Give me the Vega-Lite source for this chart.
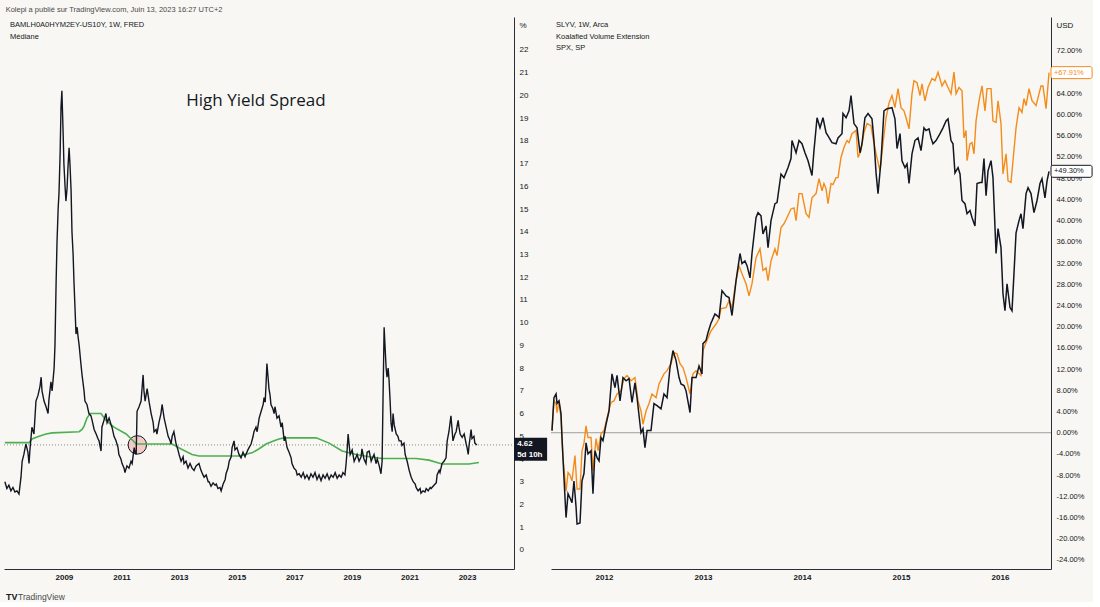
{
  "$schema": "https://vega.github.io/schema/vega-lite/v6.json",
  "background": "#f8f7f3",
  "padding": {"left": 1, "top": 5, "right": 0, "bottom": 0},
  "title": {
    "text": "Kolepi a publié sur TradingView.com, Juin 13, 2023 16:27 UTC+2",
    "anchor": "start",
    "fontSize": 7.5,
    "fontWeight": "normal",
    "color": "#4a4a4a",
    "font": "Liberation Sans",
    "offset": 4,
    "dx": 4
  },
  "config": {
    "view": {"stroke": null},
    "font": "Liberation Sans",
    "text": {"font": "Liberation Sans"}
  },
  "bounds": "flush",
  "spacing": 37,
  "datasets": {
    "spread": [
      {"t":2006.95,"v":3.0},{"t":2007.02,"v":2.7},{"t":2007.09,"v":2.85},{"t":2007.16,"v":2.6},{"t":2007.23,"v":2.75},{"t":2007.30,"v":2.55},{"t":2007.37,"v":2.6},{"t":2007.44,"v":2.46},{"t":2007.51,"v":3.2},{"t":2007.55,"v":3.9},{"t":2007.61,"v":4.2},{"t":2007.68,"v":4.66},{"t":2007.75,"v":4.3},{"t":2007.79,"v":3.8},{"t":2007.82,"v":4.4},{"t":2007.89,"v":5.4},{"t":2007.96,"v":5.1},{"t":2008.03,"v":6.55},{"t":2008.10,"v":6.8},{"t":2008.17,"v":7.2},{"t":2008.21,"v":7.6},{"t":2008.24,"v":7.0},{"t":2008.31,"v":6.55},{"t":2008.38,"v":6.3},{"t":2008.45,"v":6.0},{"t":2008.48,"v":6.6},{"t":2008.55,"v":7.4},{"t":2008.59,"v":7.0},{"t":2008.66,"v":8.0},{"t":2008.69,"v":9.0},{"t":2008.73,"v":11.8},{"t":2008.76,"v":13.5},{"t":2008.80,"v":15.0},{"t":2008.83,"v":15.7},{"t":2008.87,"v":17.5},{"t":2008.90,"v":19.5},{"t":2008.93,"v":20.2},{"t":2008.97,"v":18.5},{"t":2009.00,"v":17.0},{"t":2009.04,"v":16.0},{"t":2009.07,"v":15.35},{"t":2009.11,"v":15.9},{"t":2009.14,"v":16.8},{"t":2009.18,"v":17.7},{"t":2009.21,"v":17.0},{"t":2009.25,"v":15.8},{"t":2009.28,"v":14.0},{"t":2009.32,"v":13.0},{"t":2009.35,"v":11.8},{"t":2009.39,"v":10.5},{"t":2009.42,"v":9.5},{"t":2009.46,"v":9.8},{"t":2009.49,"v":9.4},{"t":2009.53,"v":9.0},{"t":2009.56,"v":8.6},{"t":2009.59,"v":8.2},{"t":2009.63,"v":7.7},{"t":2009.66,"v":7.4},{"t":2009.70,"v":7.0},{"t":2009.73,"v":6.55},{"t":2009.80,"v":6.4},{"t":2009.87,"v":6.0},{"t":2009.94,"v":5.9},{"t":2009.98,"v":5.7},{"t":2010.05,"v":5.3},{"t":2010.12,"v":5.1},{"t":2010.18,"v":4.9},{"t":2010.22,"v":4.8},{"t":2010.29,"v":4.35},{"t":2010.32,"v":5.4},{"t":2010.39,"v":5.7},{"t":2010.46,"v":6.0},{"t":2010.50,"v":5.6},{"t":2010.57,"v":5.8},{"t":2010.64,"v":5.5},{"t":2010.67,"v":5.4},{"t":2010.74,"v":5.0},{"t":2010.81,"v":4.8},{"t":2010.88,"v":4.5},{"t":2010.91,"v":4.2},{"t":2010.98,"v":4.0},{"t":2011.02,"v":3.8},{"t":2011.09,"v":3.6},{"t":2011.12,"v":3.4},{"t":2011.19,"v":3.7},{"t":2011.26,"v":3.6},{"t":2011.33,"v":3.9},{"t":2011.37,"v":3.8},{"t":2011.44,"v":4.5},{"t":2011.47,"v":4.3},{"t":2011.51,"v":4.2},{"t":2011.54,"v":6.1},{"t":2011.61,"v":6.3},{"t":2011.68,"v":6.55},{"t":2011.75,"v":7.7},{"t":2011.78,"v":7.0},{"t":2011.82,"v":6.55},{"t":2011.89,"v":7.1},{"t":2011.96,"v":6.5},{"t":2012.03,"v":6.0},{"t":2012.10,"v":5.6},{"t":2012.13,"v":5.2},{"t":2012.20,"v":5.3},{"t":2012.23,"v":5.1},{"t":2012.30,"v":5.6},{"t":2012.37,"v":6.0},{"t":2012.41,"v":6.4},{"t":2012.48,"v":5.8},{"t":2012.55,"v":5.4},{"t":2012.62,"v":5.0},{"t":2012.69,"v":4.8},{"t":2012.72,"v":4.66},{"t":2012.76,"v":5.0},{"t":2012.82,"v":5.2},{"t":2012.89,"v":4.7},{"t":2012.96,"v":4.4},{"t":2013.00,"v":4.2},{"t":2013.07,"v":3.9},{"t":2013.14,"v":4.1},{"t":2013.17,"v":3.8},{"t":2013.24,"v":3.9},{"t":2013.31,"v":3.6},{"t":2013.38,"v":3.8},{"t":2013.45,"v":3.6},{"t":2013.52,"v":3.5},{"t":2013.59,"v":3.7},{"t":2013.69,"v":3.8},{"t":2013.76,"v":3.5},{"t":2013.83,"v":3.3},{"t":2013.87,"v":3.2},{"t":2013.94,"v":3.3},{"t":2014.01,"v":3.0},{"t":2014.04,"v":3.0},{"t":2014.11,"v":2.8},{"t":2014.18,"v":2.95},{"t":2014.25,"v":2.85},{"t":2014.29,"v":2.9},{"t":2014.35,"v":2.7},{"t":2014.42,"v":2.75},{"t":2014.46,"v":2.6},{"t":2014.53,"v":2.9},{"t":2014.60,"v":3.1},{"t":2014.63,"v":3.35},{"t":2014.70,"v":3.6},{"t":2014.74,"v":3.9},{"t":2014.81,"v":4.1},{"t":2014.84,"v":4.5},{"t":2014.91,"v":4.8},{"t":2014.94,"v":4.4},{"t":2015.01,"v":4.5},{"t":2015.08,"v":4.2},{"t":2015.15,"v":4.05},{"t":2015.22,"v":4.3},{"t":2015.29,"v":4.1},{"t":2015.32,"v":4.2},{"t":2015.39,"v":4.4},{"t":2015.43,"v":4.5},{"t":2015.50,"v":4.66},{"t":2015.57,"v":5.0},{"t":2015.60,"v":5.2},{"t":2015.67,"v":5.4},{"t":2015.71,"v":5.2},{"t":2015.78,"v":5.8},{"t":2015.85,"v":6.1},{"t":2015.92,"v":6.4},{"t":2015.95,"v":6.7},{"t":2015.99,"v":6.5},{"t":2016.02,"v":7.3},{"t":2016.05,"v":8.2},{"t":2016.09,"v":7.6},{"t":2016.12,"v":7.1},{"t":2016.16,"v":6.8},{"t":2016.19,"v":6.4},{"t":2016.26,"v":6.2},{"t":2016.30,"v":6.0},{"t":2016.33,"v":6.3},{"t":2016.40,"v":5.8},{"t":2016.47,"v":5.9},{"t":2016.54,"v":5.4},{"t":2016.58,"v":5.6},{"t":2016.65,"v":4.8},{"t":2016.68,"v":5.0},{"t":2016.75,"v":4.5},{"t":2016.82,"v":4.3},{"t":2016.89,"v":4.05},{"t":2016.92,"v":3.8},{"t":2016.99,"v":3.6},{"t":2017.06,"v":3.5},{"t":2017.10,"v":3.3},{"t":2017.17,"v":3.35},{"t":2017.24,"v":3.2},{"t":2017.31,"v":3.4},{"t":2017.37,"v":3.15},{"t":2017.44,"v":3.3},{"t":2017.51,"v":3.1},{"t":2017.58,"v":3.35},{"t":2017.65,"v":3.2},{"t":2017.72,"v":3.4},{"t":2017.79,"v":3.1},{"t":2017.86,"v":3.3},{"t":2017.93,"v":3.05},{"t":2018.00,"v":3.3},{"t":2018.07,"v":3.15},{"t":2018.14,"v":3.35},{"t":2018.21,"v":3.1},{"t":2018.28,"v":3.3},{"t":2018.35,"v":3.2},{"t":2018.42,"v":3.4},{"t":2018.49,"v":3.15},{"t":2018.56,"v":3.3},{"t":2018.63,"v":3.2},{"t":2018.69,"v":3.4},{"t":2018.76,"v":3.3},{"t":2018.80,"v":3.8},{"t":2018.83,"v":4.3},{"t":2018.87,"v":5.1},{"t":2018.90,"v":4.7},{"t":2018.94,"v":4.2},{"t":2019.01,"v":4.4},{"t":2019.08,"v":3.9},{"t":2019.15,"v":4.1},{"t":2019.18,"v":4.2},{"t":2019.25,"v":3.9},{"t":2019.32,"v":4.1},{"t":2019.35,"v":4.45},{"t":2019.42,"v":4.0},{"t":2019.49,"v":3.8},{"t":2019.53,"v":4.3},{"t":2019.60,"v":4.35},{"t":2019.67,"v":3.9},{"t":2019.70,"v":4.0},{"t":2019.77,"v":4.2},{"t":2019.84,"v":3.8},{"t":2019.88,"v":4.0},{"t":2019.95,"v":3.7},{"t":2020.01,"v":3.35},{"t":2020.05,"v":3.9},{"t":2020.08,"v":6.5},{"t":2020.12,"v":9.8},{"t":2020.15,"v":9.0},{"t":2020.19,"v":8.0},{"t":2020.22,"v":7.6},{"t":2020.26,"v":8.0},{"t":2020.29,"v":7.5},{"t":2020.33,"v":6.5},{"t":2020.36,"v":5.6},{"t":2020.40,"v":5.2},{"t":2020.43,"v":6.0},{"t":2020.47,"v":5.5},{"t":2020.54,"v":5.1},{"t":2020.60,"v":5.0},{"t":2020.64,"v":4.8},{"t":2020.71,"v":4.8},{"t":2020.74,"v":4.6},{"t":2020.81,"v":4.7},{"t":2020.85,"v":4.2},{"t":2020.92,"v":3.9},{"t":2020.99,"v":3.5},{"t":2021.06,"v":3.2},{"t":2021.13,"v":3.0},{"t":2021.20,"v":2.9},{"t":2021.23,"v":2.75},{"t":2021.30,"v":2.6},{"t":2021.37,"v":2.7},{"t":2021.40,"v":2.5},{"t":2021.47,"v":2.6},{"t":2021.54,"v":2.55},{"t":2021.58,"v":2.7},{"t":2021.65,"v":2.6},{"t":2021.72,"v":2.75},{"t":2021.75,"v":2.7},{"t":2021.82,"v":2.8},{"t":2021.89,"v":2.9},{"t":2021.93,"v":2.95},{"t":2021.96,"v":3.3},{"t":2022.03,"v":3.5},{"t":2022.06,"v":3.4},{"t":2022.13,"v":3.8},{"t":2022.20,"v":3.9},{"t":2022.27,"v":4.05},{"t":2022.31,"v":4.8},{"t":2022.37,"v":5.2},{"t":2022.44,"v":5.9},{"t":2022.48,"v":5.3},{"t":2022.51,"v":4.8},{"t":2022.58,"v":5.1},{"t":2022.62,"v":5.2},{"t":2022.69,"v":5.7},{"t":2022.72,"v":5.4},{"t":2022.76,"v":5.1},{"t":2022.83,"v":4.95},{"t":2022.90,"v":5.1},{"t":2022.97,"v":4.66},{"t":2023.00,"v":4.5},{"t":2023.04,"v":4.2},{"t":2023.07,"v":4.6},{"t":2023.14,"v":5.3},{"t":2023.17,"v":4.9},{"t":2023.24,"v":5.0},{"t":2023.27,"v":4.7},{"t":2023.34,"v":4.62}
    ],
    "median": [
      {"t":2006.95,"v":4.72},{"t":2007.79,"v":4.72},{"t":2007.89,"v":4.88},{"t":2008.14,"v":5.0},{"t":2008.38,"v":5.1},{"t":2008.59,"v":5.15},{"t":2009.53,"v":5.2},{"t":2009.63,"v":5.3},{"t":2009.70,"v":5.45},{"t":2009.80,"v":5.8},{"t":2009.91,"v":6.0},{"t":2010.29,"v":6.0},{"t":2010.46,"v":5.7},{"t":2010.74,"v":5.4},{"t":2011.16,"v":5.1},{"t":2011.37,"v":4.85},{"t":2011.51,"v":4.66},{"t":2012.76,"v":4.66},{"t":2013.07,"v":4.44},{"t":2013.45,"v":4.2},{"t":2013.69,"v":4.13},{"t":2015.08,"v":4.13},{"t":2015.53,"v":4.27},{"t":2015.78,"v":4.45},{"t":2016.02,"v":4.66},{"t":2016.30,"v":4.8},{"t":2016.47,"v":4.88},{"t":2016.65,"v":4.93},{"t":2017.76,"v":4.93},{"t":2018.21,"v":4.7},{"t":2018.66,"v":4.35},{"t":2019.15,"v":4.2},{"t":2019.60,"v":4.1},{"t":2020.05,"v":4.02},{"t":2021.23,"v":4.02},{"t":2021.68,"v":3.95},{"t":2022.13,"v":3.78},{"t":2023.07,"v":3.78},{"t":2023.41,"v":3.85}
    ],
    "slyv": [
      {"t":2011.475,"v":0.4},{"t":2011.495,"v":6.6},{"t":2011.516,"v":7.3},{"t":2011.526,"v":5.5},{"t":2011.546,"v":6.0},{"t":2011.566,"v":3.6},{"t":2011.576,"v":-0.9},{"t":2011.596,"v":-8.5},{"t":2011.617,"v":-16.0},{"t":2011.637,"v":-11.5},{"t":2011.657,"v":-12.3},{"t":2011.677,"v":-13.2},{"t":2011.697,"v":-9.1},{"t":2011.718,"v":-14.0},{"t":2011.728,"v":-17.2},{"t":2011.758,"v":-17.0},{"t":2011.778,"v":-9.1},{"t":2011.798,"v":-7.7},{"t":2011.819,"v":-1.9},{"t":2011.839,"v":-4.0},{"t":2011.869,"v":-3.4},{"t":2011.889,"v":-11.5},{"t":2011.909,"v":-3.4},{"t":2011.930,"v":-4.7},{"t":2011.950,"v":-5.3},{"t":2011.970,"v":-0.9},{"t":2011.990,"v":-1.5},{"t":2012.021,"v":1.6},{"t":2012.051,"v":4.1},{"t":2012.081,"v":11.1},{"t":2012.111,"v":8.5},{"t":2012.132,"v":10.8},{"t":2012.162,"v":6.0},{"t":2012.192,"v":10.4},{"t":2012.223,"v":9.8},{"t":2012.253,"v":10.2},{"t":2012.283,"v":5.7},{"t":2012.313,"v":9.4},{"t":2012.334,"v":6.6},{"t":2012.374,"v":0.0},{"t":2012.394,"v":0.75},{"t":2012.414,"v":-2.8},{"t":2012.435,"v":0.4},{"t":2012.475,"v":0.4},{"t":2012.505,"v":5.5},{"t":2012.536,"v":5.1},{"t":2012.576,"v":4.5},{"t":2012.606,"v":7.3},{"t":2012.637,"v":6.6},{"t":2012.667,"v":12.3},{"t":2012.697,"v":15.5},{"t":2012.728,"v":13.6},{"t":2012.758,"v":10.4},{"t":2012.778,"v":9.2},{"t":2012.808,"v":8.9},{"t":2012.829,"v":7.9},{"t":2012.869,"v":3.8},{"t":2012.889,"v":10.4},{"t":2012.930,"v":10.4},{"t":2012.960,"v":12.6},{"t":2012.990,"v":11.1},{"t":2013.000,"v":16.8},{"t":2013.031,"v":17.4},{"t":2013.051,"v":18.9},{"t":2013.081,"v":20.7},{"t":2013.091,"v":21.1},{"t":2013.121,"v":22.4},{"t":2013.142,"v":22.1},{"t":2013.162,"v":21.7},{"t":2013.192,"v":26.8},{"t":2013.233,"v":25.8},{"t":2013.263,"v":25.5},{"t":2013.293,"v":22.1},{"t":2013.334,"v":28.7},{"t":2013.374,"v":33.8},{"t":2013.394,"v":31.9},{"t":2013.424,"v":32.4},{"t":2013.445,"v":31.5},{"t":2013.475,"v":29.2},{"t":2013.495,"v":33.8},{"t":2013.536,"v":40.6},{"t":2013.556,"v":41.5},{"t":2013.586,"v":40.9},{"t":2013.606,"v":37.5},{"t":2013.637,"v":39.0},{"t":2013.657,"v":34.9},{"t":2013.687,"v":40.0},{"t":2013.727,"v":43.2},{"t":2013.748,"v":43.4},{"t":2013.788,"v":48.8},{"t":2013.818,"v":48.1},{"t":2013.859,"v":50.0},{"t":2013.889,"v":51.7},{"t":2013.899,"v":55.1},{"t":2013.940,"v":52.8},{"t":2013.970,"v":55.1},{"t":2014.000,"v":54.5},{"t":2014.030,"v":52.8},{"t":2014.061,"v":51.3},{"t":2014.101,"v":48.5},{"t":2014.121,"v":53.2},{"t":2014.152,"v":59.4},{"t":2014.182,"v":57.5},{"t":2014.212,"v":59.4},{"t":2014.243,"v":56.6},{"t":2014.263,"v":56.0},{"t":2014.303,"v":54.7},{"t":2014.344,"v":54.5},{"t":2014.364,"v":55.6},{"t":2014.404,"v":56.4},{"t":2014.414,"v":60.2},{"t":2014.445,"v":59.4},{"t":2014.475,"v":60.7},{"t":2014.495,"v":63.6},{"t":2014.525,"v":58.3},{"t":2014.556,"v":57.5},{"t":2014.586,"v":52.8},{"t":2014.606,"v":54.5},{"t":2014.636,"v":59.4},{"t":2014.667,"v":60.2},{"t":2014.707,"v":59.2},{"t":2014.727,"v":55.1},{"t":2014.748,"v":49.0},{"t":2014.768,"v":45.1},{"t":2014.798,"v":51.3},{"t":2014.828,"v":60.7},{"t":2014.859,"v":61.1},{"t":2014.909,"v":61.3},{"t":2014.939,"v":59.2},{"t":2014.960,"v":53.6},{"t":2014.990,"v":56.4},{"t":2015.010,"v":51.3},{"t":2015.040,"v":50.0},{"t":2015.061,"v":50.7},{"t":2015.081,"v":47.0},{"t":2015.111,"v":52.6},{"t":2015.141,"v":55.1},{"t":2015.172,"v":55.6},{"t":2015.202,"v":53.2},{"t":2015.232,"v":57.5},{"t":2015.253,"v":57.0},{"t":2015.283,"v":57.3},{"t":2015.303,"v":55.6},{"t":2015.323,"v":54.5},{"t":2015.354,"v":55.1},{"t":2015.394,"v":56.4},{"t":2015.424,"v":57.5},{"t":2015.455,"v":58.8},{"t":2015.475,"v":59.2},{"t":2015.505,"v":55.1},{"t":2015.525,"v":54.5},{"t":2015.545,"v":49.0},{"t":2015.576,"v":50.0},{"t":2015.596,"v":48.8},{"t":2015.616,"v":43.8},{"t":2015.646,"v":43.2},{"t":2015.667,"v":41.3},{"t":2015.697,"v":41.9},{"t":2015.717,"v":40.6},{"t":2015.747,"v":39.0},{"t":2015.768,"v":47.0},{"t":2015.798,"v":47.2},{"t":2015.818,"v":47.2},{"t":2015.838,"v":51.7},{"t":2015.859,"v":44.7},{"t":2015.879,"v":49.4},{"t":2015.909,"v":51.3},{"t":2015.929,"v":48.1},{"t":2015.960,"v":33.8},{"t":2015.980,"v":38.5},{"t":2016.010,"v":34.9},{"t":2016.030,"v":26.2},{"t":2016.050,"v":23.0},{"t":2016.071,"v":28.1},{"t":2016.101,"v":23.6},{"t":2016.121,"v":23.0},{"t":2016.141,"v":30.0},{"t":2016.162,"v":37.7},{"t":2016.192,"v":40.0},{"t":2016.212,"v":41.3},{"t":2016.232,"v":38.5},{"t":2016.263,"v":45.1},{"t":2016.283,"v":46.2},{"t":2016.313,"v":45.1},{"t":2016.343,"v":41.5},{"t":2016.374,"v":43.8},{"t":2016.404,"v":47.0},{"t":2016.424,"v":47.9},{"t":2016.454,"v":44.3},{"t":2016.475,"v":47.5},{"t":2016.495,"v":49.3}
    ],
    "spx": [
      {"t":2011.475,"v":0.4},{"t":2011.495,"v":6.0},{"t":2011.516,"v":5.5},{"t":2011.526,"v":3.8},{"t":2011.546,"v":6.0},{"t":2011.566,"v":2.8},{"t":2011.586,"v":-4.7},{"t":2011.617,"v":-11.0},{"t":2011.637,"v":-7.5},{"t":2011.657,"v":-8.0},{"t":2011.677,"v":-9.1},{"t":2011.707,"v":-4.3},{"t":2011.728,"v":-10.6},{"t":2011.758,"v":-10.6},{"t":2011.778,"v":-3.4},{"t":2011.798,"v":-2.0},{"t":2011.819,"v":1.3},{"t":2011.839,"v":-0.9},{"t":2011.869,"v":-0.9},{"t":2011.889,"v":-7.2},{"t":2011.920,"v":-1.1},{"t":2011.940,"v":-3.4},{"t":2011.970,"v":-0.2},{"t":2012.000,"v":0.4},{"t":2012.031,"v":2.8},{"t":2012.071,"v":5.7},{"t":2012.101,"v":6.0},{"t":2012.132,"v":7.3},{"t":2012.172,"v":7.9},{"t":2012.202,"v":10.2},{"t":2012.233,"v":10.8},{"t":2012.273,"v":9.8},{"t":2012.313,"v":10.4},{"t":2012.344,"v":6.0},{"t":2012.374,"v":4.1},{"t":2012.394,"v":1.6},{"t":2012.425,"v":4.1},{"t":2012.455,"v":5.5},{"t":2012.485,"v":7.3},{"t":2012.526,"v":6.6},{"t":2012.556,"v":9.2},{"t":2012.606,"v":11.1},{"t":2012.637,"v":11.7},{"t":2012.677,"v":13.0},{"t":2012.707,"v":15.1},{"t":2012.738,"v":14.9},{"t":2012.768,"v":13.0},{"t":2012.798,"v":12.3},{"t":2012.829,"v":10.4},{"t":2012.869,"v":7.3},{"t":2012.899,"v":11.1},{"t":2012.930,"v":11.7},{"t":2012.980,"v":10.8},{"t":2013.000,"v":15.5},{"t":2013.031,"v":17.0},{"t":2013.081,"v":19.2},{"t":2013.132,"v":20.5},{"t":2013.162,"v":21.5},{"t":2013.182,"v":23.4},{"t":2013.233,"v":23.6},{"t":2013.263,"v":24.9},{"t":2013.293,"v":23.6},{"t":2013.334,"v":28.7},{"t":2013.364,"v":31.5},{"t":2013.394,"v":30.0},{"t":2013.435,"v":28.1},{"t":2013.465,"v":25.8},{"t":2013.495,"v":28.1},{"t":2013.536,"v":33.0},{"t":2013.576,"v":34.7},{"t":2013.606,"v":30.6},{"t":2013.637,"v":31.1},{"t":2013.657,"v":28.7},{"t":2013.687,"v":32.4},{"t":2013.727,"v":34.7},{"t":2013.748,"v":33.4},{"t":2013.788,"v":38.7},{"t":2013.818,"v":39.4},{"t":2013.849,"v":40.6},{"t":2013.889,"v":42.2},{"t":2013.919,"v":42.4},{"t":2013.940,"v":40.0},{"t":2013.970,"v":45.1},{"t":2014.000,"v":45.1},{"t":2014.041,"v":41.3},{"t":2014.071,"v":40.6},{"t":2014.101,"v":44.3},{"t":2014.142,"v":45.1},{"t":2014.172,"v":47.9},{"t":2014.202,"v":45.6},{"t":2014.222,"v":47.0},{"t":2014.243,"v":46.0},{"t":2014.263,"v":43.2},{"t":2014.293,"v":47.0},{"t":2014.313,"v":46.8},{"t":2014.344,"v":48.1},{"t":2014.364,"v":48.1},{"t":2014.394,"v":51.9},{"t":2014.424,"v":53.8},{"t":2014.455,"v":55.1},{"t":2014.475,"v":54.7},{"t":2014.505,"v":56.4},{"t":2014.546,"v":57.0},{"t":2014.566,"v":51.9},{"t":2014.596,"v":53.2},{"t":2014.626,"v":56.6},{"t":2014.657,"v":58.3},{"t":2014.697,"v":57.9},{"t":2014.717,"v":55.6},{"t":2014.748,"v":52.6},{"t":2014.788,"v":49.4},{"t":2014.818,"v":54.5},{"t":2014.849,"v":59.4},{"t":2014.879,"v":62.2},{"t":2014.909,"v":63.6},{"t":2014.939,"v":61.3},{"t":2014.970,"v":64.9},{"t":2015.000,"v":61.3},{"t":2015.030,"v":60.7},{"t":2015.051,"v":59.4},{"t":2015.081,"v":57.3},{"t":2015.111,"v":63.9},{"t":2015.131,"v":66.4},{"t":2015.162,"v":66.0},{"t":2015.192,"v":63.6},{"t":2015.212,"v":65.8},{"t":2015.242,"v":62.6},{"t":2015.273,"v":65.1},{"t":2015.313,"v":66.8},{"t":2015.343,"v":66.4},{"t":2015.374,"v":68.0},{"t":2015.414,"v":65.4},{"t":2015.444,"v":66.4},{"t":2015.475,"v":65.1},{"t":2015.505,"v":63.9},{"t":2015.535,"v":68.0},{"t":2015.556,"v":63.9},{"t":2015.586,"v":65.1},{"t":2015.616,"v":64.5},{"t":2015.636,"v":55.6},{"t":2015.657,"v":57.0},{"t":2015.667,"v":51.3},{"t":2015.697,"v":54.5},{"t":2015.717,"v":54.7},{"t":2015.737,"v":52.6},{"t":2015.758,"v":58.8},{"t":2015.788,"v":62.6},{"t":2015.818,"v":65.4},{"t":2015.848,"v":60.7},{"t":2015.869,"v":64.9},{"t":2015.909,"v":64.9},{"t":2015.929,"v":58.8},{"t":2015.960,"v":58.5},{"t":2015.980,"v":62.6},{"t":2016.010,"v":58.3},{"t":2016.030,"v":48.8},{"t":2016.061,"v":52.6},{"t":2016.081,"v":47.5},{"t":2016.111,"v":47.2},{"t":2016.131,"v":51.3},{"t":2016.162,"v":57.5},{"t":2016.192,"v":61.3},{"t":2016.222,"v":60.4},{"t":2016.242,"v":63.0},{"t":2016.263,"v":61.7},{"t":2016.293,"v":64.9},{"t":2016.323,"v":62.6},{"t":2016.364,"v":61.7},{"t":2016.414,"v":65.4},{"t":2016.434,"v":65.4},{"t":2016.465,"v":61.1},{"t":2016.495,"v":67.91}
    ]
  },
  "hconcat": [
    {
      "width": 510,
      "height": 552,
      "encoding": {
        "x": {
          "field": "t",
          "type": "quantitative",
          "scale": {"domain": [2006.92, 2024.63], "nice": false, "zero": false},
          "axis": {
            "values": [2009, 2011, 2013, 2015, 2017, 2019, 2021, 2023],
            "format": "d",
            "title": null,
            "grid": false,
            "ticks": false,
            "domainColor": "#2a2e39",
            "labelFontSize": 8,
            "labelFontWeight": "bold",
            "labelColor": "#131722",
            "labelPadding": 4
          }
        },
        "y": {
          "field": "v",
          "type": "quantitative",
          "scale": {"domain": [-0.84, 23.45], "nice": false, "zero": false},
          "axis": {
            "orient": "right",
            "values": [0, 1, 2, 3, 4, 5, 6, 7, 8, 9, 10, 11, 12, 13, 14, 15, 16, 17, 18, 19, 20, 21, 22],
            "title": "%",
            "titleAngle": 0,
            "titleAlign": "left",
            "titleBaseline": "middle",
            "titleX": 5,
            "titleY": 8,
            "titleFontSize": 8,
            "titleFontWeight": "normal",
            "titleColor": "#131722",
            "grid": false,
            "ticks": false,
            "domainColor": "#2a2e39",
            "labelFontSize": 8,
            "labelPadding": 5,
            "labelColor": "#131722"
          }
        }
      },
      "layer": [
        {
          "data": {"values": [{"t": 2006.92, "t2": 2024.63, "v": 4.62}]},
          "mark": {"type": "rule", "strokeDash": [1, 2], "color": "#8a8a8a", "strokeWidth": 1},
          "encoding": {"x2": {"field": "t2"}}
        },
        {
          "data": {"values": [{"t": 2011.55, "v": 4.62}]},
          "mark": {"type": "point", "shape": "circle", "size": 340, "filled": true, "fill": "#f4c2bf", "fillOpacity": 0.85, "stroke": "#131722", "strokeWidth": 1, "opacity": 1}
        },
        {
          "data": {"name": "median"},
          "mark": {"type": "line", "color": "#4caf50", "strokeWidth": 1.6}
        },
        {
          "data": {"name": "spread"},
          "mark": {"type": "line", "color": "#131722", "strokeWidth": 1.4}
        },
        {
          "data": {"values": [
            {"t": 2007.13, "v": 23.1, "txt": "BAMLH0A0HYM2EY-US10Y, 1W, FRED"},
            {"t": 2007.13, "v": 22.57, "txt": "Médiane"}
          ]},
          "mark": {"type": "text", "align": "left", "baseline": "middle", "fontSize": 7.5, "color": "#131722"},
          "encoding": {"text": {"field": "txt"}}
        },
        {
          "data": {"values": [{"t": 2015.67, "v": 19.76, "txt": "High Yield Spread"}]},
          "mark": {"type": "text", "align": "center", "baseline": "middle", "fontSize": 17, "font": "Open Sans", "color": "#131722"},
          "encoding": {"text": {"field": "txt"}}
        },
        {
          "data": {"values": [{"t": 2024.634, "t2": 2025.78, "v": 4.93, "v2": 3.92}]},
          "mark": {"type": "rect", "color": "#131722"},
          "encoding": {"x2": {"field": "t2"}, "y2": {"field": "v2"}}
        },
        {
          "data": {"values": [
            {"t": 2024.74, "v": 4.66, "txt": "4.62"},
            {"t": 2024.74, "v": 4.18, "txt": "5d 10h"}
          ]},
          "mark": {"type": "text", "align": "left", "baseline": "middle", "fontSize": 8, "fontWeight": "bold", "color": "#ffffff"},
          "encoding": {"text": {"field": "txt"}}
        },
        {
          "data": {"values": [{"t": 2006.99, "v": -2.07, "txt": "TV"}]},
          "mark": {"type": "text", "align": "left", "baseline": "middle", "fontSize": 9, "fontWeight": "bold", "color": "#131722"},
          "encoding": {"text": {"field": "txt"}}
        },
        {
          "data": {"values": [{"t": 2007.41, "v": -2.07, "txt": "TradingView"}]},
          "mark": {"type": "text", "align": "left", "baseline": "middle", "fontSize": 8.5, "color": "#4a4a4a"},
          "encoding": {"text": {"field": "txt"}}
        }
      ]
    },
    {
      "width": 500,
      "height": 552,
      "encoding": {
        "x": {
          "field": "t",
          "type": "quantitative",
          "scale": {"domain": [2011.465, 2016.515], "nice": false, "zero": false},
          "axis": {
            "values": [2012, 2013, 2014, 2015, 2016],
            "format": "d",
            "title": null,
            "grid": false,
            "ticks": false,
            "domainColor": "#2a2e39",
            "labelFontSize": 8,
            "labelFontWeight": "bold",
            "labelColor": "#131722",
            "labelPadding": 4
          }
        },
        "y": {
          "field": "v",
          "type": "quantitative",
          "scale": {"domain": [-25.7, 78.4], "nice": false, "zero": false},
          "axis": {
            "orient": "right",
            "values": [-24, -20, -16, -12, -8, -4, 0, 4, 8, 12, 16, 20, 24, 28, 32, 36, 40, 44, 48, 52, 56, 60, 64, 72],
            "labelExpr": "(datum.value < 0 ? '-' : '') + format(abs(datum.value), '.2f') + '%'",
            "title": "USD",
            "titleAngle": 0,
            "titleAlign": "left",
            "titleBaseline": "middle",
            "titleX": 5,
            "titleY": 8,
            "titleFontSize": 8,
            "titleFontWeight": "normal",
            "titleColor": "#131722",
            "grid": false,
            "ticks": false,
            "domainColor": "#2a2e39",
            "labelFontSize": 7.5,
            "labelPadding": 5,
            "labelColor": "#131722"
          }
        }
      },
      "layer": [
        {
          "data": {"values": [{"t": 2011.465, "t2": 2016.515, "v": 0}]},
          "mark": {"type": "rule", "color": "#9e9e9e", "strokeWidth": 1},
          "encoding": {"x2": {"field": "t2"}}
        },
        {
          "data": {"name": "spx"},
          "mark": {"type": "line", "color": "#f48c1c", "strokeWidth": 1.4}
        },
        {
          "data": {"name": "slyv"},
          "mark": {"type": "line", "color": "#131722", "strokeWidth": 1.5}
        },
        {
          "data": {"values": [
            {"t": 2011.516, "v": 76.95, "txt": "SLYV, 1W, Arca"},
            {"t": 2011.516, "v": 74.69, "txt": "Koalafied Volume Extension"},
            {"t": 2011.516, "v": 72.61, "txt": "SPX, SP"}
          ]},
          "mark": {"type": "text", "align": "left", "baseline": "middle", "fontSize": 7.5, "color": "#131722"},
          "encoding": {"text": {"field": "txt"}}
        },
        {
          "data": {"values": [
            {"t": 2016.515, "t2": 2016.93, "v": 69.04, "v2": 66.78, "s": "SPX"},
            {"t": 2016.515, "t2": 2016.93, "v": 50.43, "v2": 48.17, "s": "SLYV"}
          ]},
          "mark": {"type": "rect", "fill": "#ffffff", "strokeWidth": 1, "cornerRadius": 2},
          "encoding": {
            "x2": {"field": "t2"},
            "y2": {"field": "v2"},
            "stroke": {"field": "s", "type": "nominal", "scale": {"domain": ["SPX", "SLYV"], "range": ["#f48c1c", "#131722"]}, "legend": null}
          }
        },
        {
          "data": {"values": [
            {"t": 2016.545, "v": 67.91, "txt": "+67.91%", "s": "SPX"},
            {"t": 2016.545, "v": 49.3, "txt": "+49.30%", "s": "SLYV"}
          ]},
          "mark": {"type": "text", "align": "left", "baseline": "middle", "fontSize": 7.5},
          "encoding": {
            "text": {"field": "txt"},
            "color": {"field": "s", "type": "nominal", "scale": {"domain": ["SPX", "SLYV"], "range": ["#f48c1c", "#131722"]}, "legend": null}
          }
        }
      ]
    }
  ]
}
